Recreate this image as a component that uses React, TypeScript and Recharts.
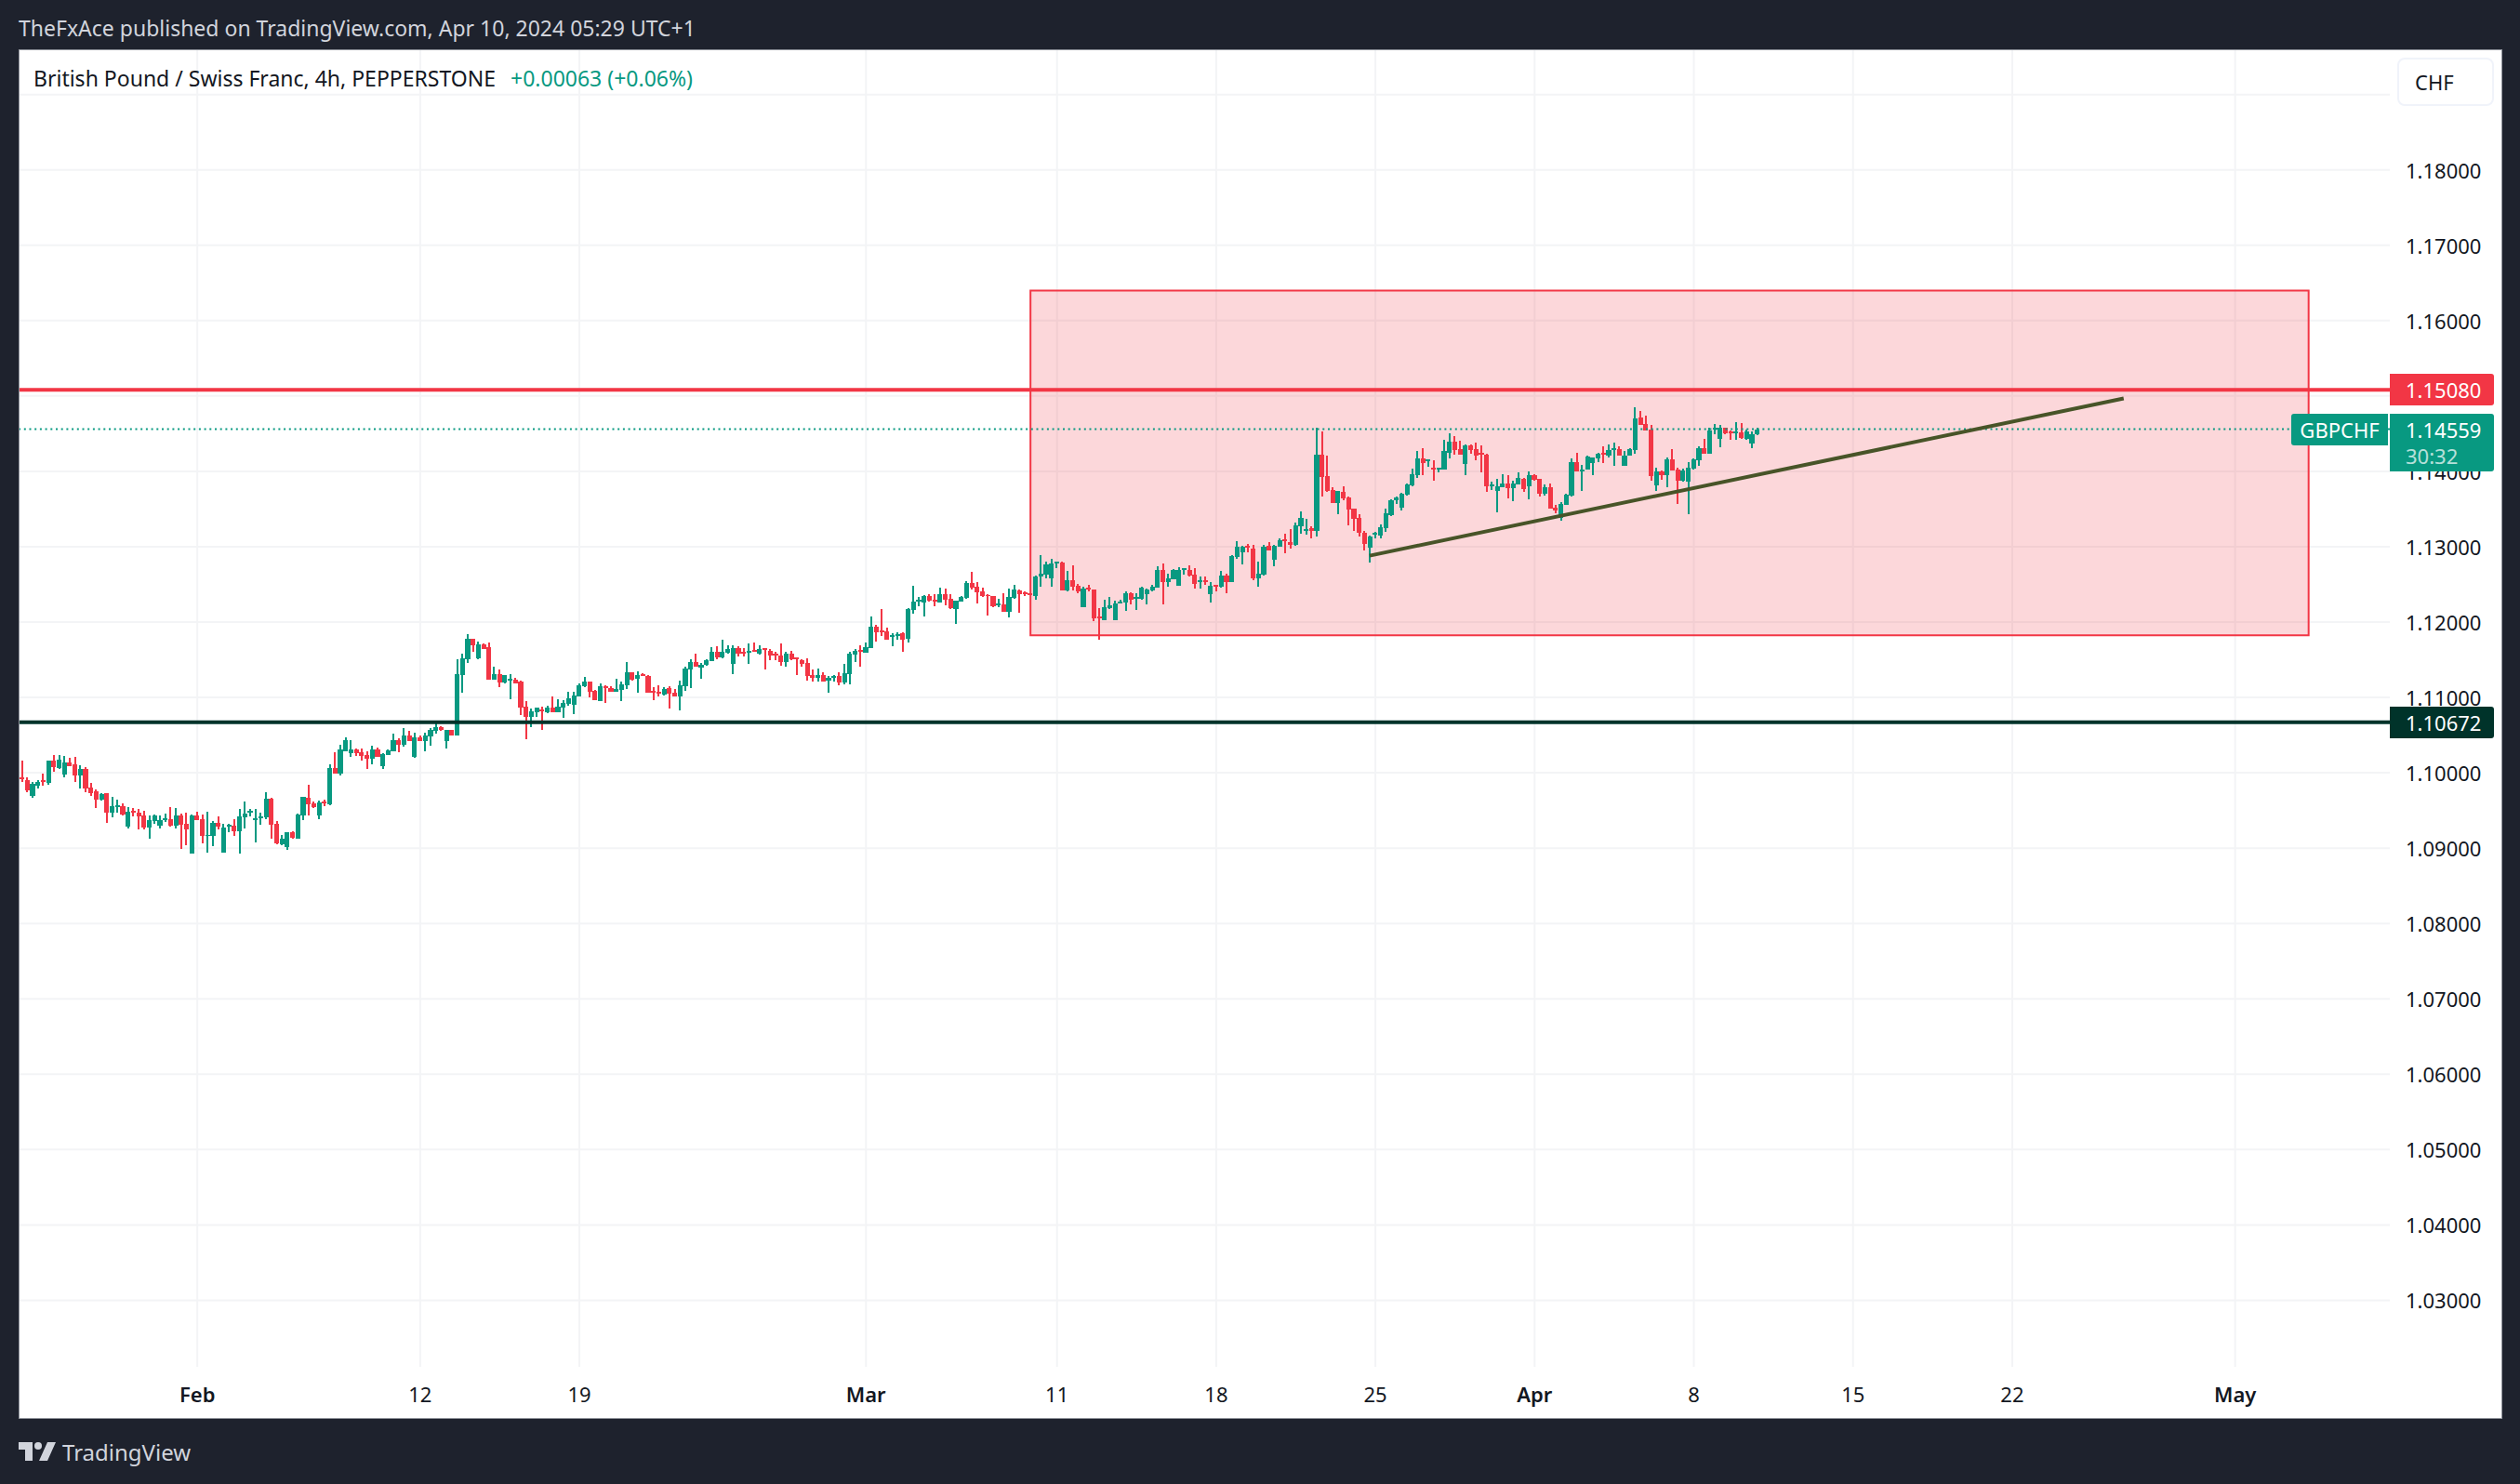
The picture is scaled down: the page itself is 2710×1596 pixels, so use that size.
import {
  ComposedChart,
  Bar,
  XAxis,
  YAxis,
  CartesianGrid,
  ReferenceArea,
  ReferenceLine,
} from 'recharts'

const FONT = '"Noto Sans", sans-serif'
const UP = '#089981'
const DOWN = '#F23645'
const DARK = '#00332A'
const TEXT = '#131722'
const FRAME = '#1E222D'

/** Prices are stored in points, 1e-5 of a franc */
const POINT = 100000

const highs = [
  110156,109934,109872,109897,109984,110156,110230,110230,110218,110193,
  110206,110095,110070,109860,109774,109724,109724,109675,109638,109588,
  109539,109527,109514,109490,109428,109440,109428,109453,109539,109527,
  109453,109465,109440,109477,109440,109477,109354,109416,109317,109317,
  109379,109514,109613,109514,109514,109465,109737,109663,109354,109169,
  109206,109218,109453,109675,109835,109613,109626,109638,110107,110267,
  110366,110465,110428,110317,110317,110280,110354,110329,110255,110305,
  110514,110453,110588,110551,110527,110490,110527,110588,110650,110613,
  110564,110564,111502,111576,111835,111774,111737,111712,111724,111403,
  111366,111292,111304,111255,111218,110946,110848,110860,110872,110885,
  111008,110975,110963,111074,111074,111185,111272,111210,111099,111185,
  111160,111148,111247,111210,111469,111333,111346,111321,111296,111136,
  111160,111136,111148,111111,111222,111407,111506,111580,111457,111506,
  111667,111679,111765,111691,111691,111679,111654,111716,111728,111691,
  111654,111642,111605,111716,111605,111617,111531,111506,111518,111370,
  111383,111333,111284,111296,111333,111444,111605,111642,111691,111728,
  112074,111963,112173,111926,111852,111864,111864,112185,112481,112333,
  112358,112370,112370,112457,112444,112370,112284,112346,112543,112667,
  112531,112457,112370,112346,112309,112383,112444,112494,112432,112407,
  112383,112617,112889,112802,112839,112802,112802,112679,112753,112506,
  112469,112494,112432,112185,112296,112333,112288,112292,112403,112391,
  112379,112465,112440,112490,112737,112774,112638,112700,112724,112712,
  112749,112712,112601,112601,112527,112490,112675,112638,112885,113070,
  113008,113033,113021,112798,113021,113058,113021,113107,113169,113230,
  113317,113465,113366,113267,114576,114527,114206,113786,113737,113798,
  113663,113502,113428,113206,113144,113193,113292,113502,113625,113663,
  113712,113835,114033,114267,114304,114156,114144,114045,114416,114502,
  114465,114403,114354,114354,114379,114341,114230,113860,113897,113959,
  113946,113872,113983,113909,113996,113959,113897,113823,113835,113551,
  113588,113700,114169,114243,114082,114206,114181,114243,114329,114354,
  114379,114329,114267,114304,114848,114798,114737,114613,114045,114008,
  114181,114292,114045,114033,114119,114169,114329,114428,114576,114625,
  114613,114576,114539,114650,114638,114551,114527,114576,
]

const lows = [
  109877,109741,109667,109786,109823,109840,110008,110045,109934,110082,
  109872,109786,109741,109691,109527,109626,109329,109403,109465,109428,
  109255,109416,109243,109243,109119,109317,109255,109342,109280,109255,
  108984,109033,108922,109366,109058,108934,109021,109243,108934,109206,
  109156,108922,109255,109416,109070,109305,109379,109119,109045,109033,
  108971,109119,109119,109366,109428,109527,109379,109551,109564,109984,
  109959,110280,110206,110218,110156,110045,110107,110206,110045,110230,
  110280,110267,110342,110416,110193,110416,110280,110354,110514,110551,
  110317,110490,110490,111058,111453,111601,111502,111638,111230,111230,
  111132,111181,110971,111181,110761,110440,110601,110737,110564,110786,
  110798,110802,110728,110889,110778,111012,111136,111000,110963,110951,
  110926,111074,111074,110951,111111,111222,111062,111284,111062,110963,
  111012,111025,110852,111012,110827,111086,111123,111407,111247,111420,
  111481,111506,111518,111580,111309,111543,111543,111444,111605,111568,
  111370,111494,111494,111420,111407,111494,111296,111407,111222,111210,
  111210,111210,111062,111210,111160,111173,111173,111469,111407,111593,
  111654,111741,111815,111765,111679,111765,111605,111728,112111,112210,
  112074,112272,112210,112259,112222,112173,111975,112272,112309,112432,
  112247,112333,112086,112197,112197,112136,112062,112309,112123,112346,
  112354,112296,112469,112580,112469,112716,112420,112407,112420,112383,
  112197,112407,112012,111765,112025,112173,112025,112243,112144,112230,
  112156,112292,112230,112403,112453,112230,112465,112564,112477,112626,
  112601,112440,112440,112490,112255,112403,112453,112379,112527,112835,
  112761,112922,112551,112465,112613,112947,112737,112996,112909,112971,
  113008,113169,113156,113107,113132,113663,113724,113576,113428,113613,
  113280,113206,113132,112947,112786,113107,113107,113193,113403,113564,
  113477,113675,113798,113909,113946,114058,113872,113983,114021,114169,
  114218,114218,113946,114230,114144,113983,113724,113749,113453,113786,
  113638,113601,113823,113724,113625,113872,113663,113675,113502,113440,
  113342,113551,113663,113996,113737,114021,113946,114119,114107,114181,
  114070,114206,114070,114206,114230,114613,114539,113872,113737,113885,
  113786,114008,113564,113860,113428,114021,114070,114230,114230,114490,
  114317,114490,114416,114416,114428,114416,114304,114477,
]

const opens = [
  109934,109897,109687,109823,109897,109864,110156,110062,109971,110132,
  110107,109959,110045,109798,109749,109638,109724,109465,109539,109551,
  109280,109490,109465,109428,109268,109362,109292,109366,109379,109292,
  109428,109317,108922,109428,109379,109156,109156,109329,108934,109280,
  109292,109218,109403,109465,109366,109391,109403,109650,109317,109045,
  109008,109206,109119,109428,109663,109588,109428,109613,109576,110058,
  109984,110280,110255,110305,110267,110230,110181,110305,110082,110230,
  110280,110428,110366,110490,110206,110465,110416,110477,110551,110601,
  110416,110564,110490,111292,111502,111774,111514,111700,111662,111230,
  111304,111193,111222,111230,111206,110872,110737,110798,110835,110798,
  110860,110802,110864,110914,110901,111012,111148,111210,111086,110951,
  111148,111123,111074,111099,111160,111333,111247,111309,111284,111086,
  111074,111037,111123,111062,111012,111148,111370,111469,111395,111432,
  111481,111605,111531,111593,111444,111654,111605,111593,111630,111580,
  111654,111617,111580,111556,111469,111580,111531,111494,111457,111296,
  111259,111296,111222,111259,111284,111198,111309,111568,111630,111593,
  111654,111938,111889,111877,111802,111815,111852,111778,112160,112272,
  112259,112346,112296,112259,112370,112309,112173,112272,112321,112518,
  112469,112407,112358,112346,112222,112235,112136,112321,112420,112395,
  112378,112346,112605,112630,112580,112778,112790,112420,112555,112481,
  112197,112457,112432,112074,112025,112185,112025,112251,112255,112379,
  112305,112305,112366,112416,112453,112687,112527,112564,112477,112687,
  112687,112626,112527,112551,112366,112490,112465,112613,112527,112860,
  112922,113008,112971,112576,112626,113008,112823,112996,113095,113058,
  113021,113267,113206,113243,113206,114218,113934,113749,113576,113724,
  113650,113502,113379,113181,112984,113156,113144,113243,113416,113613,
  113514,113687,113811,113946,114169,114132,114045,114021,114021,114243,
  114391,114292,114095,114341,114292,114243,114218,113798,113737,113786,
  113835,113774,113823,113897,113798,113946,113897,113700,113786,113514,
  113379,113551,113675,114119,113996,114021,114107,114169,114243,114206,
  114280,114292,114070,114206,114280,114712,114625,114551,113811,113996,
  113946,114156,114021,113872,113860,114033,114144,114304,114230,114551,
  114428,114576,114527,114502,114514,114428,114366,114490,
]

const closes = [
  109914,109765,109848,109881,109881,110156,110074,110169,110132,110082,
  109959,110045,109786,109728,109638,109712,109465,109551,109564,109440,
  109477,109465,109416,109268,109366,109428,109366,109391,109292,109428,
  109309,109243,109428,109366,109156,109177,109329,109280,109268,109305,
  109218,109416,109453,109490,109391,109416,109650,109305,109058,109119,
  109206,109132,109440,109675,109576,109539,109601,109588,110058,109984,
  110305,110428,110305,110255,110218,110181,110305,110206,110243,110292,
  110428,110366,110490,110416,110465,110416,110490,110564,110601,110564,
  110564,110490,111304,111514,111774,111687,111700,111638,111230,111304,
  111193,111292,111243,111181,110860,110737,110811,110860,110811,110860,
  110798,110877,110926,110988,111025,111160,111210,111074,110963,111148,
  111123,111074,111111,111173,111333,111235,111296,111284,111062,111062,
  111062,111111,111049,111012,111160,111383,111469,111407,111432,111494,
  111605,111531,111605,111642,111654,111580,111580,111617,111605,111642,
  111638,111556,111556,111469,111580,111506,111506,111444,111284,111259,
  111296,111210,111259,111284,111198,111321,111580,111617,111605,111667,
  111938,111864,111864,111765,111827,111839,111765,112173,112272,112296,
  112346,112284,112272,112370,112296,112185,112284,112333,112518,112457,
  112395,112346,112346,112210,112247,112136,112333,112432,112370,112370,
  112362,112605,112642,112765,112778,112802,112420,112555,112469,112407,
  112444,112432,112049,112049,112197,112222,112247,112276,112379,112292,
  112329,112453,112428,112465,112687,112527,112576,112687,112687,112712,
  112613,112502,112551,112527,112477,112465,112613,112527,112872,112996,
  112996,112984,112576,112638,112996,112947,113008,113082,113070,113021,
  113280,113379,113230,113206,114218,113922,113737,113576,113737,113638,
  113490,113366,113181,113033,113132,113181,113255,113440,113613,113650,
  113700,113823,113959,114169,114107,114156,114021,114045,114267,114391,
  114280,114218,114341,114280,114206,114218,113798,113823,113798,113835,
  113774,113835,113909,113761,113946,113885,113700,113786,113502,113477,
  113564,113687,114119,113996,114021,114193,114181,114230,114218,114280,
  114304,114206,114206,114292,114700,114613,114539,113934,113996,113946,
  114156,114008,113872,114008,114045,114156,114304,114230,114539,114576,
  114576,114502,114514,114527,114440,114527,114490,114559,
]

const priceTicks = [1.03, 1.04, 1.05, 1.06, 1.07, 1.08, 1.09, 1.1, 1.11, 1.12, 1.13, 1.14, 1.15, 1.16, 1.17, 1.18, 1.19]
const timeTicks = [33, 75, 105, 159, 195, 225, 255, 285, 315, 345, 375, 417]
const timeLabels = ['Feb', '12', '19', 'Mar', '11', '18', '25', 'Apr', '8', '15', '22', 'May']
const monthLabels = ['Feb', 'Mar', 'Apr', 'May']

const RESISTANCE = 1.1508
const SUPPORT = 1.10672
const LAST_PRICE = 1.14559
const ZONE = { x1: 190, x2: 430.85, y1: 1.11823, y2: 1.164 }
const TREND = [{ x: 253.9, y: 1.12881 }, { x: 396, y: 1.14967 }]

const Y_DOMAIN = [1.02117, 1.19588]
const X_DOMAIN = [-0.5, 446.15]

// plot box inside the 2710x1596 page
const PLOT_TOP = 54
const PLOT_BOTTOM = 1470
const priceY = (v: number) =>
  PLOT_TOP + ((Y_DOMAIN[1] - v) / (Y_DOMAIN[1] - Y_DOMAIN[0])) * (PLOT_BOTTOM - PLOT_TOP)

const candles = highs.map((h, i) => ({
  i,
  open: opens[i] / POINT,
  close: closes[i] / POINT,
  high: h / POINT,
  low: lows[i] / POINT,
  range: [lows[i] / POINT, h / POINT],
}))

/** Bar gives the high-low box, the body is placed inside it */
const Candle = (props: any) => {
  const { x, y, width, height, payload } = props
  const { open, close, high, low } = payload
  const color = close >= open ? UP : DOWN
  const perUnit = height / (high - low)
  const top = y + (high - Math.max(open, close)) * perUnit
  const bodyH = Math.max(Math.abs(open - close) * perUnit, 1.5)
  const cx = x + width / 2
  return (
    <g shapeRendering="crispEdges">
      <rect x={cx - 1} y={y} width={2} height={height} fill={color} />
      <rect x={x} y={top} width={width} height={bodyH} fill={color} />
    </g>
  )
}

const TimeTick = ({ x, y, payload }: any) => {
  const label = timeLabels[timeTicks.indexOf(payload.value)]
  return (
    <text
      x={x}
      y={y + 21}
      textAnchor="middle"
      dominantBaseline="central"
      fontFamily={FONT}
      fontSize={22}
      fontWeight={monthLabels.includes(label) ? 600 : 400}
      fill={TEXT}
    >
      {label}
    </text>
  )
}

const Tag = ({ price, bg, sub }: { price: number; bg: string; sub?: string }) => (
  <div
    style={{
      position: 'absolute',
      left: 2570,
      top: priceY(price) - 17,
      width: 112,
      height: sub ? 62 : 34,
      background: bg,
      borderRadius: '0 3px 3px 0',
      color: '#fff',
      fontSize: 22,
      lineHeight: '34px',
      paddingLeft: 17,
      boxSizing: 'border-box',
    }}
  >
    {price.toFixed(5)}
    {sub && <div style={{ lineHeight: '22px', marginTop: 0, opacity: 0.7 }}>{sub}</div>}
  </div>
)

export default function App() {
  return (
    <div
      style={{
        position: 'absolute',
        left: 0,
        top: 0,
        width: 2710,
        height: 1596,
        background: FRAME,
        overflow: 'hidden',
        fontFamily: FONT,
      }}
    >
      <div
        style={{
          position: 'absolute',
          left: 20,
          top: 53,
          width: 2671,
          height: 1473,
          background: '#fff',
          border: '1px solid #8f929a',
          boxSizing: 'border-box',
        }}
      />

      <div style={{ position: 'absolute', left: 20, top: 14, fontSize: 23, lineHeight: '32px', color: '#D1D4DC' }}>
        TheFxAce published on TradingView.com, Apr 10, 2024 05:29 UTC+1
      </div>

      <div style={{ position: 'absolute', left: 0, top: 0 }}>
        <ComposedChart
          width={2710}
          height={1596}
          data={candles}
          margin={{ top: 54, right: 20, bottom: 71, left: 21 }}
          barCategoryGap={0}
        >
          <CartesianGrid stroke="#F3F4F6" strokeWidth={2} syncWithTicks />
          <XAxis
            dataKey="i"
            type="number"
            domain={X_DOMAIN}
            ticks={timeTicks}
            interval={0}
            allowDataOverflow
            height={55}
            axisLine={false}
            tickLine={false}
            tick={<TimeTick />}
          />
          <YAxis
            orientation="right"
            type="number"
            domain={Y_DOMAIN}
            ticks={priceTicks}
            interval={0}
            allowDataOverflow
            width={120}
            axisLine={false}
            tickLine={false}
            tickSize={0}
            tickMargin={17}
            tickFormatter={(v: number) => v.toFixed(5)}
            tick={{ fontFamily: FONT, fontSize: 22, fill: TEXT, dy: 1 }}
          />
          <ReferenceArea
            x1={ZONE.x1}
            x2={ZONE.x2}
            y1={ZONE.y1}
            y2={ZONE.y2}
            fill={DOWN}
            fillOpacity={0.2}
            stroke={DOWN}
            strokeWidth={2}
            strokeOpacity={1}
          />
          <ReferenceLine y={LAST_PRICE} stroke={UP} strokeWidth={2} strokeDasharray="2 3.7" />
          <ReferenceLine y={RESISTANCE} stroke={DOWN} strokeWidth={4} />
          <ReferenceLine y={SUPPORT} stroke={DARK} strokeWidth={4} />
          <ReferenceLine segment={TREND} stroke="#485428" strokeWidth={4} />
          <Bar dataKey="range" barSize={6} shape={<Candle />} isAnimationActive={false} />
        </ComposedChart>
      </div>

      <div style={{ position: 'absolute', left: 36, top: 68, fontSize: 23, lineHeight: '32px', color: TEXT, whiteSpace: 'nowrap' }}>
        British Pound / Swiss Franc, 4h, PEPPERSTONE
        <span style={{ color: UP, marginLeft: 16 }}>+0.00063 (+0.06%)</span>
      </div>

      <div
        style={{
          position: 'absolute',
          left: 2578,
          top: 62,
          width: 104,
          height: 52,
          boxSizing: 'border-box',
          background: '#fff',
          border: '2px solid #F0F3FA',
          borderRadius: 8,
          fontSize: 22,
          lineHeight: '48px',
          paddingLeft: 17,
          color: TEXT,
        }}
      >
        CHF
      </div>

      <Tag price={RESISTANCE} bg={DOWN} />
      <Tag price={LAST_PRICE} bg={UP} sub="30:32" />
      <Tag price={SUPPORT} bg={DARK} />
      <div
        style={{
          position: 'absolute',
          left: 2464,
          top: priceY(LAST_PRICE) - 17,
          width: 104,
          height: 34,
          background: UP,
          borderRadius: '3px 0 0 3px',
          color: '#fff',
          fontSize: 22,
          lineHeight: '34px',
          textAlign: 'center',
        }}
      >
        GBPCHF
      </div>

      <svg style={{ position: 'absolute', left: 20, top: 1550 }} width={40} height={24} viewBox="0 0 40 24">
        <path d="M0 1H15V21H7V9H0Z M31 1H40L31 21H22Z" fill="#D1D4DC" />
        <circle cx={21} cy={5} r={4} fill="#D1D4DC" />
      </svg>
      <div style={{ position: 'absolute', left: 67, top: 1544, fontSize: 24, lineHeight: '36px', color: '#D1D4DC' }}>
        TradingView
      </div>
    </div>
  )
}
